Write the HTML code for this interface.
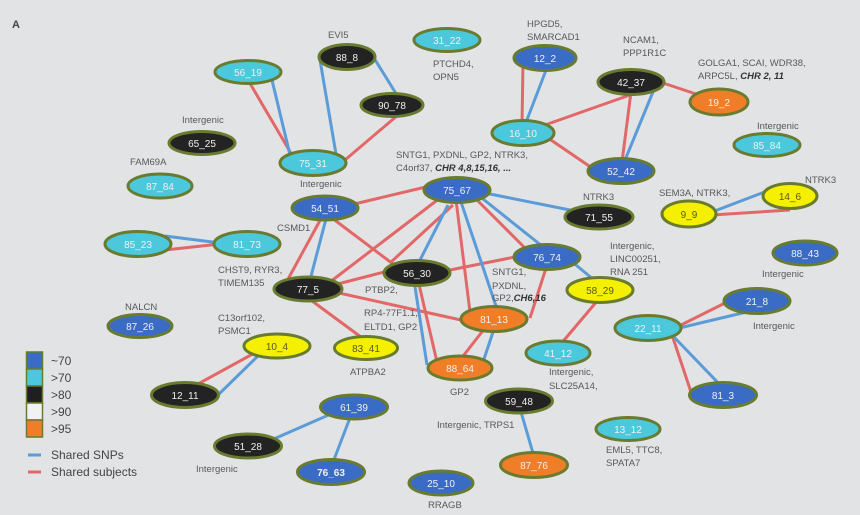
<!DOCTYPE html>
<html><head><meta charset="utf-8"><style>
html,body{margin:0;padding:0;background:#e2e3e5;}
svg{display:block;}
.lb{font-family:"Liberation Sans",sans-serif;font-size:9.5px;fill:#585858;}
.nt{font-family:"Liberation Sans",sans-serif;font-size:10px;fill:#f0f0f0;text-anchor:middle;}
.ny{fill:#5a581c;}
.bi{font-weight:bold;font-style:italic;fill:#333;}
.r{stroke:#e26868;stroke-width:3;}
.b{stroke:#5b9bd8;stroke-width:3;}
ellipse{stroke:#687b2f;stroke-width:3;}
.cB{fill:#3a6cc6}.cC{fill:#4cc8dc}.cK{fill:#232323}.cY{fill:#f5ef00}.cO{fill:#f07e28}
</style></head><body>
<svg width="860" height="515" viewBox="0 0 860 515" xmlns="http://www.w3.org/2000/svg">
<rect width="860" height="515" fill="#e2e3e5"/>
<text x="12" y="28" font-family="Liberation Sans,sans-serif" font-size="11" font-weight="bold" fill="#444">A</text>

<g class="r">
<line x1="248" y1="80" x2="292" y2="155"/>
<line x1="398" y1="115" x2="345" y2="160"/>
<line x1="165" y1="250" x2="220" y2="244"/>
<line x1="350" y1="205" x2="430" y2="186"/>
<line x1="323" y1="215" x2="287" y2="281"/>
<line x1="328" y1="215" x2="393" y2="264"/>
<line x1="440" y1="198" x2="330" y2="282"/>
<line x1="453" y1="205" x2="390" y2="263"/>
<line x1="456" y1="200" x2="470" y2="312"/>
<line x1="475" y1="198" x2="527" y2="250"/>
<line x1="330" y1="286" x2="392" y2="270"/>
<line x1="330" y1="291" x2="470" y2="322"/>
<line x1="308" y1="298" x2="365" y2="340"/>
<line x1="440" y1="272" x2="525" y2="255"/>
<line x1="418" y1="280" x2="437" y2="362"/>
<line x1="547" y1="265" x2="530" y2="318"/>
<line x1="485" y1="328" x2="460" y2="360"/>
<line x1="598" y1="300" x2="560" y2="345"/>
<line x1="675" y1="328" x2="735" y2="298"/>
<line x1="672" y1="335" x2="691" y2="392"/>
<line x1="712" y1="215" x2="790" y2="210"/>
<line x1="260" y1="350" x2="187" y2="390"/>
<line x1="523" y1="62" x2="522" y2="125"/>
<line x1="545" y1="125" x2="630" y2="95"/>
<line x1="548" y1="138" x2="595" y2="170"/>
<line x1="631" y1="92" x2="622" y2="162"/>
<line x1="660" y1="82" x2="705" y2="97"/>
</g>
<g class="b">
<line x1="272" y1="80" x2="290" y2="155"/>
<line x1="320" y1="60" x2="337" y2="160"/>
<line x1="374" y1="58" x2="400" y2="100"/>
<line x1="165" y1="236" x2="220" y2="243"/>
<line x1="327" y1="215" x2="309" y2="284"/>
<line x1="448" y1="205" x2="417" y2="266"/>
<line x1="461" y1="202" x2="498" y2="312"/>
<line x1="478" y1="195" x2="547" y2="250"/>
<line x1="480" y1="192" x2="580" y2="212"/>
<line x1="570" y1="260" x2="600" y2="285"/>
<line x1="414" y1="280" x2="427" y2="365"/>
<line x1="495" y1="326" x2="483" y2="362"/>
<line x1="675" y1="329" x2="755" y2="310"/>
<line x1="673" y1="336" x2="725" y2="390"/>
<line x1="519" y1="405" x2="535" y2="460"/>
<line x1="712" y1="212" x2="775" y2="188"/>
<line x1="262" y1="352" x2="218" y2="395"/>
<line x1="340" y1="410" x2="260" y2="445"/>
<line x1="353" y1="410" x2="330" y2="470"/>
<line x1="548" y1="65" x2="525" y2="125"/>
<line x1="655" y1="87" x2="623" y2="165"/>
</g>

<ellipse class="cC" cx="248" cy="72" rx="33" ry="11.5"/><text class="nt" x="248" y="76">56_19</text>
<ellipse class="cK" cx="347" cy="57" rx="28" ry="12.5"/><text class="nt" x="347" y="61">88_8</text>
<ellipse class="cK" cx="392" cy="105" rx="31" ry="11.5"/><text class="nt" x="392" y="109">90_78</text>
<ellipse class="cC" cx="447" cy="40" rx="33" ry="11.5"/><text class="nt" x="447" y="44">31_22</text>
<ellipse class="cB" cx="545" cy="58" rx="31" ry="12.5"/><text class="nt" x="545" y="62">12_2</text>
<ellipse class="cK" cx="631" cy="82" rx="33" ry="12.5"/><text class="nt" x="631" y="86">42_37</text>
<ellipse class="cO" cx="719" cy="102" rx="29" ry="13"/><text class="nt" x="719" y="106">19_2</text>
<ellipse class="cC" cx="523" cy="133" rx="31" ry="12.5"/><text class="nt" x="523" y="137">16_10</text>
<ellipse class="cK" cx="202" cy="143" rx="33" ry="11.5"/><text class="nt" x="202" y="147">65_25</text>
<ellipse class="cC" cx="313" cy="163" rx="33" ry="12.5"/><text class="nt" x="313" y="167">75_31</text>
<ellipse class="cC" cx="767" cy="145" rx="33" ry="11.5"/><text class="nt" x="767" y="149">85_84</text>
<ellipse class="cB" cx="621" cy="171" rx="33" ry="12.5"/><text class="nt" x="621" y="175">52_42</text>
<ellipse class="cC" cx="160" cy="186" rx="32" ry="12"/><text class="nt" x="160" y="190">87_84</text>
<ellipse class="cB" cx="457" cy="190" rx="33" ry="12.5"/><text class="nt" x="457" y="194">75_67</text>
<ellipse class="cB" cx="325" cy="208" rx="33" ry="12"/><text class="nt" x="325" y="212">54_51</text>
<ellipse class="cK" cx="599" cy="217" rx="34" ry="12"/><text class="nt" x="599" y="221">71_55</text>
<ellipse class="cY" cx="689" cy="214" rx="27" ry="13"/><text class="nt ny" x="689" y="218">9_9</text>
<ellipse class="cY" cx="790" cy="196" rx="27" ry="12.5"/><text class="nt ny" x="790" y="200">14_6</text>
<ellipse class="cC" cx="138" cy="244" rx="33" ry="12.5"/><text class="nt" x="138" y="248">85_23</text>
<ellipse class="cC" cx="247" cy="244" rx="33" ry="12.5"/><text class="nt" x="247" y="248">81_73</text>
<ellipse class="cK" cx="417" cy="273" rx="33" ry="12.5"/><text class="nt" x="417" y="277">56_30</text>
<ellipse class="cB" cx="547" cy="257" rx="33" ry="12.5"/><text class="nt" x="547" y="261">76_74</text>
<ellipse class="cB" cx="805" cy="253" rx="32" ry="12"/><text class="nt" x="805" y="257">88_43</text>
<ellipse class="cK" cx="308" cy="289" rx="34" ry="12"/><text class="nt" x="308" y="293">77_5</text>
<ellipse class="cY" cx="600" cy="290" rx="33" ry="12.5"/><text class="nt ny" x="600" y="294">58_29</text>
<ellipse class="cB" cx="757" cy="301" rx="33" ry="12.5"/><text class="nt" x="757" y="305">21_8</text>
<ellipse class="cO" cx="494" cy="319" rx="33" ry="12.5"/><text class="nt" x="494" y="323">81_13</text>
<ellipse class="cC" cx="648" cy="328" rx="33" ry="12.5"/><text class="nt" x="648" y="332">22_11</text>
<ellipse class="cB" cx="140" cy="326" rx="32" ry="11.5"/><text class="nt" x="140" y="330">87_26</text>
<ellipse class="cY" cx="277" cy="346" rx="33" ry="12"/><text class="nt ny" x="277" y="350">10_4</text>
<ellipse class="cY" cx="366" cy="348" rx="31.5" ry="11.5"/><text class="nt ny" x="366" y="352">83_41</text>
<ellipse class="cC" cx="558" cy="353" rx="32" ry="12"/><text class="nt" x="558" y="357">41_12</text>
<ellipse class="cO" cx="460" cy="368" rx="32" ry="12"/><text class="nt" x="460" y="372">88_64</text>
<ellipse class="cK" cx="185" cy="395" rx="33.5" ry="12.5"/><text class="nt" x="185" y="399">12_11</text>
<ellipse class="cB" cx="723" cy="395" rx="33.5" ry="12.5"/><text class="nt" x="723" y="399">81_3</text>
<ellipse class="cK" cx="519" cy="401" rx="33.5" ry="12"/><text class="nt" x="519" y="405">59_48</text>
<ellipse class="cB" cx="354" cy="407" rx="33.5" ry="12"/><text class="nt" x="354" y="411">61_39</text>
<ellipse class="cC" cx="628" cy="429" rx="32" ry="11.5"/><text class="nt" x="628" y="433">13_12</text>
<ellipse class="cK" cx="248" cy="446" rx="33.5" ry="12"/><text class="nt" x="248" y="450">51_28</text>
<ellipse class="cB" cx="331" cy="472" rx="33.5" ry="12.5"/><text class="nt" x="331" y="476" font-weight="bold">76_63</text>
<ellipse class="cO" cx="534" cy="465" rx="33.5" ry="12.5"/><text class="nt" x="534" y="469">87_76</text>
<ellipse class="cB" cx="441" cy="483" rx="32" ry="12"/><text class="nt" x="441" y="487">25_10</text>

<text class="lb" x="328" y="38">EVI5</text>
<text class="lb" x="433" y="67">PTCHD4,</text>
<text class="lb" x="433" y="80">OPN5</text>
<text class="lb" x="527" y="27">HPGD5,</text>
<text class="lb" x="527" y="40">SMARCAD1</text>
<text class="lb" x="623" y="43">NCAM1,</text>
<text class="lb" x="623" y="56">PPP1R1C</text>
<text class="lb" x="698" y="66">GOLGA1, SCAI, WDR38,</text>
<text class="lb" x="698" y="79">ARPC5L, <tspan class="bi">CHR 2, 11</tspan></text>
<text class="lb" x="757" y="129">Intergenic</text>
<text class="lb" x="182" y="123">Intergenic</text>
<text class="lb" x="130" y="165">FAM69A</text>
<text class="lb" x="396" y="158">SNTG1, PXDNL, GP2, NTRK3,</text>
<text class="lb" x="396" y="171">C4orf37, <tspan class="bi">CHR 4,8,15,16, ...</tspan></text>
<text class="lb" x="300" y="187">Intergenic</text>
<text class="lb" x="277" y="231">CSMD1</text>
<text class="lb" x="583" y="200">NTRK3</text>
<text class="lb" x="659" y="196">SEM3A, NTRK3,</text>
<text class="lb" x="805" y="183">NTRK3</text>
<text class="lb" x="610" y="249">Intergenic,</text>
<text class="lb" x="610" y="262">LINC00251,</text>
<text class="lb" x="610" y="275">RNA 251</text>
<text class="lb" x="762" y="277">Intergenic</text>
<text class="lb" x="218" y="273">CHST9, RYR3,</text>
<text class="lb" x="218" y="286">TIMEM135</text>
<text class="lb" x="365" y="293">PTBP2,</text>
<text class="lb" x="492" y="275">SNTG1,</text>
<text class="lb" x="492" y="289">PXDNL,</text>
<text class="lb" x="492" y="301">GP2,<tspan class="bi">CH6,16</tspan></text>
<text class="lb" x="125" y="310">NALCN</text>
<text class="lb" x="218" y="321">C13orf102,</text>
<text class="lb" x="218" y="334">PSMC1</text>
<text class="lb" x="364" y="316">RP4-77F1.1,</text>
<text class="lb" x="364" y="330">ELTD1, GP2</text>
<text class="lb" x="350" y="375">ATPBA2</text>
<text class="lb" x="753" y="329">Intergenic</text>
<text class="lb" x="549" y="375">Intergenic,</text>
<text class="lb" x="549" y="389">SLC25A14,</text>
<text class="lb" x="450" y="395">GP2</text>
<text class="lb" x="437" y="428">Intergenic, TRPS1</text>
<text class="lb" x="606" y="453">EML5, TTC8,</text>
<text class="lb" x="606" y="466">SPATA7</text>
<text class="lb" x="196" y="472">Intergenic</text>
<text class="lb" x="428" y="508">RRAGB</text>

<g stroke="#687b2f" stroke-width="1.5">
<rect x="26.5" y="352" width="16" height="17" fill="#3a6cc6"/>
<rect x="26.5" y="369" width="16" height="17" fill="#4cc8dc"/>
<rect x="26.5" y="386" width="16" height="17" fill="#1f1f1f"/>
<rect x="26.5" y="403" width="16" height="17" fill="#f1f1f1"/>
<rect x="26.5" y="420" width="16" height="17" fill="#f07e28"/>
</g>
<g font-family="Liberation Sans,sans-serif" font-size="12" fill="#444">
<text x="51" y="365">~70</text>
<text x="51" y="382">&gt;70</text>
<text x="51" y="399">&gt;80</text>
<text x="51" y="416">&gt;90</text>
<text x="51" y="433">&gt;95</text>
<text x="51" y="459">Shared SNPs</text>
<text x="51" y="476">Shared subjects</text>
</g>
<line x1="28" y1="455" x2="41" y2="455" class="b"/>
<line x1="28" y1="472" x2="41" y2="472" class="r"/>
</svg>
</body></html>
